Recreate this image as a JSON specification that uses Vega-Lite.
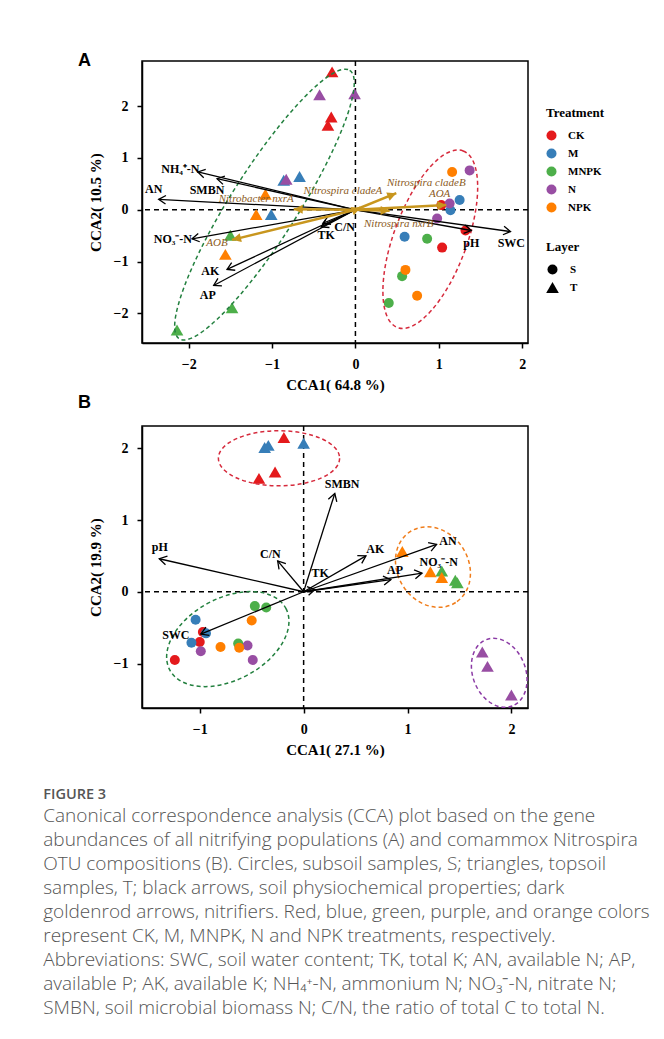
{
  "$schema": "https://vega.github.io/schema/vega-lite/v6.json",
  "padding": {"left": 43, "top": 51, "right": 5, "bottom": 5},
  "background": "white",
  "title": {
    "text": "FIGURE 3",
    "subtitle": [
      "Canonical correspondence analysis (CCA) plot based on the gene",
      "abundances of all nitrifying populations (A) and comammox Nitrospira",
      "OTU compositions (B). Circles, subsoil samples, S; triangles, topsoil",
      "samples, T; black arrows, soil physiochemical properties; dark",
      "goldenrod arrows, nitrifiers. Red, blue, green, purple, and orange colors",
      "represent CK, M, MNPK, N and NPK treatments, respectively.",
      "Abbreviations: SWC, soil water content; TK, total K; AN, available N; AP,",
      "available P; AK, available K; NH₄⁺-N, ammonium N; NO₃⁻-N, nitrate N;",
      "SMBN, soil microbial biomass N; C/N, the ratio of total C to total N."
    ],
    "orient": "bottom",
    "anchor": "start",
    "frame": "bounds",
    "dx": -34,
    "offset": 30,
    "font": "Open Sans",
    "fontSize": 14.5,
    "fontWeight": 600,
    "color": "#555555",
    "subtitleFont": "Open Sans",
    "subtitleFontSize": 19,
    "subtitleFontWeight": 300,
    "subtitleColor": "#555555",
    "subtitleLineHeight": 24,
    "subtitlePadding": 5
  },
  "spacing": 0,
  "vconcat": [
    {
      "width": 386,
      "height": 282,
      "title": {"text": "A", "anchor": "start", "frame": "group", "orient": "top", "dx": -64, "dy": 0, "offset": -24, "baseline": "alphabetic", "font": "Liberation Sans", "fontSize": 18, "fontWeight": "bold", "color": "black"},
      "layer": [
        {
          "data": {"values": [{"v": 0}]},
          "mark": {"type": "rule", "strokeDash": [5, 4], "strokeWidth": 1.5, "color": "black"},
          "encoding": {"x": {"field": "v", "type": "quantitative", "title": "CCA1( 64.8 %)"}}
        },
        {
          "data": {"values": [{"v": 0}]},
          "mark": {"type": "rule", "strokeDash": [5, 4], "strokeWidth": 1.5, "color": "black"},
          "encoding": {"y": {"field": "v", "type": "quantitative", "title": "CCA2( 10.5 %)"}}
        },
        {
          "data": {"values": [
            {"Treatment": "CK", "Layer": "T", "x": -0.28, "y": 2.66},
            {"Treatment": "CK", "Layer": "T", "x": -0.29, "y": 1.79},
            {"Treatment": "CK", "Layer": "T", "x": -0.33, "y": 1.63},
            {"Treatment": "M", "Layer": "T", "x": -0.86, "y": 0.57},
            {"Treatment": "M", "Layer": "T", "x": -0.67, "y": 0.64},
            {"Treatment": "M", "Layer": "T", "x": -1.01, "y": -0.09},
            {"Treatment": "MNPK", "Layer": "T", "x": -1.50, "y": -0.49},
            {"Treatment": "MNPK", "Layer": "T", "x": -1.48, "y": -1.89},
            {"Treatment": "MNPK", "Layer": "T", "x": -2.14, "y": -2.32},
            {"Treatment": "N", "Layer": "T", "x": -0.43, "y": 2.22},
            {"Treatment": "N", "Layer": "T", "x": -0.01, "y": 2.24},
            {"Treatment": "N", "Layer": "T", "x": -0.83, "y": 0.59},
            {"Treatment": "NPK", "Layer": "T", "x": -1.08, "y": 0.30},
            {"Treatment": "NPK", "Layer": "T", "x": -1.19, "y": -0.09},
            {"Treatment": "NPK", "Layer": "T", "x": -1.56, "y": -0.86},
            {"Treatment": "CK", "Layer": "S", "x": 1.03, "y": 0.09},
            {"Treatment": "CK", "Layer": "S", "x": 1.32, "y": -0.40},
            {"Treatment": "CK", "Layer": "S", "x": 1.04, "y": -0.73},
            {"Treatment": "M", "Layer": "S", "x": 1.25, "y": 0.19},
            {"Treatment": "M", "Layer": "S", "x": 1.14, "y": -0.01},
            {"Treatment": "M", "Layer": "S", "x": 0.59, "y": -0.52},
            {"Treatment": "MNPK", "Layer": "S", "x": 0.86, "y": -0.56},
            {"Treatment": "MNPK", "Layer": "S", "x": 0.56, "y": -1.28},
            {"Treatment": "MNPK", "Layer": "S", "x": 0.40, "y": -1.80},
            {"Treatment": "N", "Layer": "S", "x": 1.37, "y": 0.76},
            {"Treatment": "N", "Layer": "S", "x": 1.13, "y": 0.12},
            {"Treatment": "N", "Layer": "S", "x": 0.98, "y": -0.17},
            {"Treatment": "NPK", "Layer": "S", "x": 1.16, "y": 0.73},
            {"Treatment": "NPK", "Layer": "S", "x": 0.60, "y": -1.16},
            {"Treatment": "NPK", "Layer": "S", "x": 0.74, "y": -1.66}
          ]},
          "mark": {"type": "point", "filled": true, "opacity": 1, "strokeWidth": 0},
          "encoding": {
            "x": {"field": "x", "type": "quantitative", "title": "CCA1( 64.8 %)", "scale": {"domain": [-2.56, 2.07], "nice": false, "zero": false}, "axis": {"values": [-2, -1, 0, 1, 2], "format": "d"}},
            "y": {"field": "y", "type": "quantitative", "title": "CCA2( 10.5 %)", "scale": {"domain": [-2.57, 2.87], "nice": false, "zero": false}, "axis": {"values": [-2, -1, 0, 1, 2], "format": "d"}},
            "color": {"field": "Treatment", "type": "nominal", "scale": {"domain": ["CK", "M", "MNPK", "N", "NPK"], "range": ["#e41a1c", "#377eb8", "#4daf4a", "#984ea3", "#ff7f00"]},
              "legend": {"orient": "none", "legendX": 404, "legendY": 46, "symbolType": "circle", "symbolSize": 100, "encode": {"symbols": {"update": {"shape": {"value": "circle"}, "strokeWidth": {"value": 0}}}}}},
            "shape": {"field": "Layer", "type": "nominal", "title": "Layer", "scale": {"domain": ["S", "T"], "range": ["circle", "triangle-up"]},
              "legend": {"orient": "none", "legendX": 404, "legendY": 180, "encode": {"symbols": {"update": {"fill": {"value": "black"}, "stroke": {"value": "black"}, "strokeWidth": {"value": 0}}}}}},
            "size": {"field": "Layer", "type": "nominal", "title": "Layer", "scale": {"domain": ["S", "T"], "range": [100, 160]},
              "legend": {"orient": "none", "legendX": 404, "legendY": 180, "encode": {"symbols": {"update": {"fill": {"value": "black"}, "stroke": {"value": "black"}, "strokeWidth": {"value": 0}}}}}}
          }
        },
        {
          "data": {"values": [{"x": -1.091, "y": 0.10, "group": "T"}]},
          "mark": {"type": "point", "filled": false, "clip": true, "shape": "M 1 0 C 1 0.1165 0.5523 0.211 0 0.211 C -0.5523 0.211 -1 0.1165 -1 0 C -1 -0.1165 -0.5523 -0.211 0 -0.211 C 0.5523 -0.211 1 -0.1165 1 0 Z", "size": 101124, "angle": -57.6, "stroke": "#23803f", "strokeWidth": 1.5, "strokeDash": [4, 3], "opacity": 1},
          "encoding": {
            "x": {"field": "x", "type": "quantitative", "title": "CCA1( 64.8 %)"},
            "y": {"field": "y", "type": "quantitative", "title": "CCA2( 10.5 %)"}
          }
        },
        {
          "data": {"values": [{"x": 0.898, "y": -0.568, "group": "S"}]},
          "mark": {"type": "point", "filled": false, "clip": true, "shape": "M 1 0 C 1 0.2137 0.5523 0.387 0 0.387 C -0.5523 0.387 -1 0.2137 -1 0 C -1 -0.2137 -0.5523 -0.387 0 -0.387 C 0.5523 -0.387 1 -0.2137 1 0 Z", "size": 35495, "angle": -69.6, "stroke": "#d62a3c", "strokeWidth": 1.5, "strokeDash": [4, 3], "opacity": 1},
          "encoding": {
            "x": {"field": "x", "type": "quantitative", "title": "CCA1( 64.8 %)"},
            "y": {"field": "y", "type": "quantitative", "title": "CCA2( 10.5 %)"}
          }
        },
        {
          "data": {"name": "envA", "values": [
            {"label": "NH₄⁺-N", "x": -1.89, "y": 0.73, "lx": -2.10, "ly": 0.78},
            {"label": "SMBN", "x": -1.66, "y": 0.60, "lx": -1.78, "ly": 0.39},
            {"label": "AN", "x": -2.36, "y": 0.20, "lx": -2.42, "ly": 0.40},
            {"label": "NO₃⁻-N", "x": -1.96, "y": -0.56, "lx": -2.19, "ly": -0.56},
            {"label": "AK", "x": -1.54, "y": -1.15, "lx": -1.74, "ly": -1.19},
            {"label": "AP", "x": -1.70, "y": -1.46, "lx": -1.77, "ly": -1.64},
            {"label": "TK", "x": -0.41, "y": -0.33, "lx": -0.35, "ly": -0.49},
            {"label": "C/N", "x": -0.39, "y": -0.26, "lx": -0.13, "ly": -0.33},
            {"label": "pH", "x": 1.39, "y": -0.40, "lx": 1.39, "ly": -0.64},
            {"label": "SWC", "x": 1.86, "y": -0.42, "lx": 1.87, "ly": -0.64}
          ]},
          "layer": [
            {
              "mark": {"type": "rule", "color": "black", "strokeWidth": 1.3},
              "encoding": {
                "x": {"field": "x", "type": "quantitative", "title": "CCA1( 64.8 %)"},
                "y": {"field": "y", "type": "quantitative", "title": "CCA2( 10.5 %)"},
                "x2": {"datum": 0},
                "y2": {"datum": 0}
              }
            },
            {
              "transform": [{"calculate": "atan2(-datum.y * 51.84, datum.x * 83.37) * 180 / PI", "as": "ang"}],
              "mark": {"type": "point", "filled": false, "shape": "M -1 -0.6 L 0 0 L -1 0.6", "size": 200, "stroke": "black", "strokeWidth": 1.3, "opacity": 1},
              "encoding": {
                "x": {"field": "x", "type": "quantitative", "title": "CCA1( 64.8 %)"},
                "y": {"field": "y", "type": "quantitative", "title": "CCA2( 10.5 %)"},
                "angle": {"field": "ang", "type": "quantitative", "scale": null}
              }
            },
            {
              "mark": {"type": "text", "font": "Liberation Serif", "fontSize": 12, "fontWeight": "bold", "color": "black", "align": "center", "baseline": "middle"},
              "encoding": {
                "x": {"field": "lx", "type": "quantitative", "title": "CCA1( 64.8 %)"},
                "y": {"field": "ly", "type": "quantitative", "title": "CCA2( 10.5 %)"},
                "text": {"field": "label"}
              }
            }
          ]
        },
        {
          "data": {"name": "nitA", "values": [
            {"label": "Nitrospira cladeA", "x": 0.06, "y": 0.04, "lx": -0.15, "ly": 0.36},
            {"label": "Nitrospira cladeB", "x": 0.49, "y": 0.32, "lx": 0.85, "ly": 0.51},
            {"label": "AOA", "x": 1.09, "y": 0.09, "lx": 1.01, "ly": 0.30},
            {"label": "Nitrospira nxrB", "x": 0.41, "y": -0.02, "lx": 0.52, "ly": -0.28},
            {"label": "Nitrobacter nxrA", "x": -0.74, "y": 0.01, "lx": -1.19, "ly": 0.20},
            {"label": "AOB", "x": -1.48, "y": -0.58, "lx": -1.66, "ly": -0.65}
          ]},
          "layer": [
            {
              "mark": {"type": "rule", "color": "#c8961e", "strokeWidth": 2.5},
              "encoding": {
                "x": {"field": "x", "type": "quantitative", "title": "CCA1( 64.8 %)"},
                "y": {"field": "y", "type": "quantitative", "title": "CCA2( 10.5 %)"},
                "x2": {"datum": 0},
                "y2": {"datum": 0}
              }
            },
            {
              "transform": [{"calculate": "atan2(-datum.y * 51.84, datum.x * 83.37) * 180 / PI", "as": "ang"}],
              "mark": {"type": "point", "filled": true, "shape": "M 0 0 L -1 -0.5 L -1 0.5 Z", "size": 324, "color": "#c8961e", "opacity": 1, "strokeWidth": 0},
              "encoding": {
                "x": {"field": "x", "type": "quantitative", "title": "CCA1( 64.8 %)"},
                "y": {"field": "y", "type": "quantitative", "title": "CCA2( 10.5 %)"},
                "angle": {"field": "ang", "type": "quantitative", "scale": null}
              }
            },
            {
              "mark": {"type": "text", "font": "Liberation Serif", "fontSize": 11, "fontStyle": "italic", "color": "#8b5a22", "align": "center", "baseline": "middle"},
              "encoding": {
                "x": {"field": "lx", "type": "quantitative", "title": "CCA1( 64.8 %)"},
                "y": {"field": "ly", "type": "quantitative", "title": "CCA2( 10.5 %)"},
                "text": {"field": "label"}
              }
            }
          ]
        }
      ]
    },
    {
      "width": 386,
      "height": 282,
      "title": {"text": "B", "anchor": "start", "frame": "group", "orient": "top", "dx": -64, "dy": 0, "offset": -1, "baseline": "alphabetic", "font": "Liberation Sans", "fontSize": 18, "fontWeight": "bold", "color": "black"},
      "layer": [
        {
          "data": {"values": [{"v": 0}]},
          "mark": {"type": "rule", "strokeDash": [5, 4], "strokeWidth": 1.5, "color": "black"},
          "encoding": {"x": {"field": "v", "type": "quantitative", "title": "CCA1( 27.1 %)"}}
        },
        {
          "data": {"values": [{"v": 0}]},
          "mark": {"type": "rule", "strokeDash": [5, 4], "strokeWidth": 1.5, "color": "black"},
          "encoding": {"y": {"field": "v", "type": "quantitative", "title": "CCA2( 19.9 %)"}}
        },
        {
          "data": {"values": [
            {"Treatment": "CK", "Layer": "T", "x": -0.19, "y": 2.15},
            {"Treatment": "CK", "Layer": "T", "x": -0.275, "y": 1.67},
            {"Treatment": "CK", "Layer": "T", "x": -0.43, "y": 1.58},
            {"Treatment": "M", "Layer": "T", "x": -0.375, "y": 2.01},
            {"Treatment": "M", "Layer": "T", "x": -0.34, "y": 2.04},
            {"Treatment": "M", "Layer": "T", "x": 0.0, "y": 2.07},
            {"Treatment": "MNPK", "Layer": "T", "x": 1.33, "y": 0.29},
            {"Treatment": "MNPK", "Layer": "T", "x": 1.46, "y": 0.16},
            {"Treatment": "MNPK", "Layer": "T", "x": 1.48, "y": 0.125},
            {"Treatment": "N", "Layer": "T", "x": 1.72, "y": -0.84},
            {"Treatment": "N", "Layer": "T", "x": 1.77, "y": -1.04},
            {"Treatment": "N", "Layer": "T", "x": 2.0, "y": -1.44},
            {"Treatment": "NPK", "Layer": "T", "x": 0.95, "y": 0.56},
            {"Treatment": "NPK", "Layer": "T", "x": 1.22, "y": 0.28},
            {"Treatment": "NPK", "Layer": "T", "x": 1.33, "y": 0.20},
            {"Treatment": "CK", "Layer": "S", "x": -0.97, "y": -0.56},
            {"Treatment": "CK", "Layer": "S", "x": -1.0, "y": -0.70},
            {"Treatment": "CK", "Layer": "S", "x": -1.24, "y": -0.95},
            {"Treatment": "M", "Layer": "S", "x": -1.04, "y": -0.39},
            {"Treatment": "M", "Layer": "S", "x": -0.94, "y": -0.58},
            {"Treatment": "M", "Layer": "S", "x": -1.08, "y": -0.71},
            {"Treatment": "MNPK", "Layer": "S", "x": -0.47, "y": -0.20},
            {"Treatment": "MNPK", "Layer": "S", "x": -0.36, "y": -0.22},
            {"Treatment": "MNPK", "Layer": "S", "x": -0.63, "y": -0.72},
            {"Treatment": "N", "Layer": "S", "x": -0.99, "y": -0.83},
            {"Treatment": "N", "Layer": "S", "x": -0.54, "y": -0.75},
            {"Treatment": "N", "Layer": "S", "x": -0.49, "y": -0.95},
            {"Treatment": "NPK", "Layer": "S", "x": -0.50, "y": -0.40},
            {"Treatment": "NPK", "Layer": "S", "x": -0.80, "y": -0.77},
            {"Treatment": "NPK", "Layer": "S", "x": -0.62, "y": -0.78}
          ]},
          "mark": {"type": "point", "filled": true, "opacity": 1, "strokeWidth": 0},
          "encoding": {
            "x": {"field": "x", "type": "quantitative", "title": "CCA1( 27.1 %)", "scale": {"domain": [-1.556, 2.16], "nice": false, "zero": false}, "axis": {"values": [-1, 0, 1, 2], "format": "d"}},
            "y": {"field": "y", "type": "quantitative", "title": "CCA2( 19.9 %)", "scale": {"domain": [-1.62, 2.31], "nice": false, "zero": false}, "axis": {"values": [-1, 0, 1, 2], "format": "d"}},
            "color": {"field": "Treatment", "type": "nominal", "scale": {"domain": ["CK", "M", "MNPK", "N", "NPK"], "range": ["#e41a1c", "#377eb8", "#4daf4a", "#984ea3", "#ff7f00"]},
              "legend": {"orient": "none", "legendX": 404, "legendY": 46, "symbolType": "circle", "symbolSize": 100, "encode": {"symbols": {"update": {"shape": {"value": "circle"}, "strokeWidth": {"value": 0}}}}}},
            "shape": {"field": "Layer", "type": "nominal", "title": "Layer", "scale": {"domain": ["S", "T"], "range": ["circle", "triangle-up"]},
              "legend": {"orient": "none", "legendX": 404, "legendY": 180, "encode": {"symbols": {"update": {"fill": {"value": "black"}, "stroke": {"value": "black"}, "strokeWidth": {"value": 0}}}}}},
            "size": {"field": "Layer", "type": "nominal", "title": "Layer", "scale": {"domain": ["S", "T"], "range": [100, 160]},
              "legend": {"orient": "none", "legendX": 404, "legendY": 180, "encode": {"symbols": {"update": {"fill": {"value": "black"}, "stroke": {"value": "black"}, "strokeWidth": {"value": 0}}}}}}
          }
        },
        {
          "data": {"values": [{"x": -0.237, "y": 1.86, "group": "CK-M T"}]},
          "mark": {"type": "point", "filled": false, "clip": true, "shape": "M 1 0 C 1 0.2507 0.5523 0.454 0 0.454 C -0.5523 0.454 -1 0.2507 -1 0 C -1 -0.2507 -0.5523 -0.454 0 -0.454 C 0.5523 -0.454 1 -0.2507 1 0 Z", "size": 14689, "angle": 0, "stroke": "#d62a3c", "strokeWidth": 1.5, "strokeDash": [4, 3], "opacity": 1},
          "encoding": {
            "x": {"field": "x", "type": "quantitative", "title": "CCA1( 27.1 %)"},
            "y": {"field": "y", "type": "quantitative", "title": "CCA2( 19.9 %)"}
          }
        },
        {
          "data": {"values": [{"x": 1.245, "y": 0.344, "group": "NPK-MNPK T"}]},
          "mark": {"type": "point", "filled": false, "clip": true, "shape": "M 1 0 C 1 0.4645 0.5523 0.841 0 0.841 C -0.5523 0.841 -1 0.4645 -1 0 C -1 -0.4645 -0.5523 -0.841 0 -0.841 C 0.5523 -0.841 1 -0.4645 1 0 Z", "size": 7090, "angle": 57.3, "stroke": "#f07d1b", "strokeWidth": 1.5, "strokeDash": [4, 3], "opacity": 1},
          "encoding": {
            "x": {"field": "x", "type": "quantitative", "title": "CCA1( 27.1 %)"},
            "y": {"field": "y", "type": "quantitative", "title": "CCA2( 19.9 %)"}
          }
        },
        {
          "data": {"values": [{"x": 1.883, "y": -1.13, "group": "N T"}]},
          "mark": {"type": "point", "filled": false, "clip": true, "shape": "M 1 0 C 1 0.4098 0.5523 0.742 0 0.742 C -0.5523 0.742 -1 0.4098 -1 0 C -1 -0.4098 -0.5523 -0.742 0 -0.742 C 0.5523 -0.742 1 -0.4098 1 0 Z", "size": 5069, "angle": 68.5, "stroke": "#8b3aa5", "strokeWidth": 1.5, "strokeDash": [4, 3], "opacity": 1},
          "encoding": {
            "x": {"field": "x", "type": "quantitative", "title": "CCA1( 27.1 %)"},
            "y": {"field": "y", "type": "quantitative", "title": "CCA2( 19.9 %)"}
          }
        },
        {
          "data": {"values": [{"x": -0.73, "y": -0.66, "group": "S"}]},
          "mark": {"type": "point", "filled": false, "clip": true, "shape": "M 1 0 C 1 0.3446 0.5523 0.624 0 0.624 C -0.5523 0.624 -1 0.3446 -1 0 C -1 -0.3446 -0.5523 -0.624 0 -0.624 C 0.5523 -0.624 1 -0.3446 1 0 Z", "size": 17266, "angle": -27.9, "stroke": "#23803f", "strokeWidth": 1.5, "strokeDash": [4, 3], "opacity": 1},
          "encoding": {
            "x": {"field": "x", "type": "quantitative", "title": "CCA1( 27.1 %)"},
            "y": {"field": "y", "type": "quantitative", "title": "CCA2( 19.9 %)"}
          }
        },
        {
          "data": {"name": "envB", "values": [
            {"label": "SMBN", "x": 0.30, "y": 1.37, "lx": 0.37, "ly": 1.50},
            {"label": "pH", "x": -1.39, "y": 0.46, "lx": -1.385, "ly": 0.62},
            {"label": "C/N", "x": -0.25, "y": 0.43, "lx": -0.32, "ly": 0.53},
            {"label": "TK", "x": 0.11, "y": 0.03, "lx": 0.16, "ly": 0.265},
            {"label": "AK", "x": 0.60, "y": 0.50, "lx": 0.69, "ly": 0.60},
            {"label": "AN", "x": 1.28, "y": 0.66, "lx": 1.39, "ly": 0.71},
            {"label": "AP", "x": 0.84, "y": 0.17, "lx": 0.88, "ly": 0.30},
            {"label": "NO₃⁻-N", "x": 1.14, "y": 0.26, "lx": 1.30, "ly": 0.41},
            {"label": "SWC", "x": -0.99, "y": -0.59, "lx": -1.23, "ly": -0.60}
          ]},
          "layer": [
            {
              "mark": {"type": "rule", "color": "black", "strokeWidth": 1.3},
              "encoding": {
                "x": {"field": "x", "type": "quantitative", "title": "CCA1( 27.1 %)"},
                "y": {"field": "y", "type": "quantitative", "title": "CCA2( 19.9 %)"},
                "x2": {"datum": 0},
                "y2": {"datum": 0}
              }
            },
            {
              "transform": [{"calculate": "atan2(-datum.y * 71.76, datum.x * 103.9) * 180 / PI", "as": "ang"}],
              "mark": {"type": "point", "filled": false, "shape": "M -1 -0.6 L 0 0 L -1 0.6", "size": 220, "stroke": "black", "strokeWidth": 1.3, "opacity": 1},
              "encoding": {
                "x": {"field": "x", "type": "quantitative", "title": "CCA1( 27.1 %)"},
                "y": {"field": "y", "type": "quantitative", "title": "CCA2( 19.9 %)"},
                "angle": {"field": "ang", "type": "quantitative", "scale": null}
              }
            },
            {
              "mark": {"type": "text", "font": "Liberation Serif", "fontSize": 12, "fontWeight": "bold", "color": "black", "align": "center", "baseline": "middle"},
              "encoding": {
                "x": {"field": "lx", "type": "quantitative", "title": "CCA1( 27.1 %)"},
                "y": {"field": "ly", "type": "quantitative", "title": "CCA2( 19.9 %)"},
                "text": {"field": "label"}
              }
            }
          ]
        }
      ]
    }
  ],
  "config": {
    "view": {"stroke": "black", "strokeWidth": 1.5},
    "axis": {
      "grid": false,
      "labelFont": "Liberation Serif", "labelFontSize": 14, "labelFontWeight": "bold", "labelColor": "black",
      "titleFont": "Liberation Serif", "titleFontSize": 15, "titleFontWeight": "bold", "titleColor": "black",
      "tickColor": "black", "tickSize": 5, "tickWidth": 1.5, "domainColor": "black", "domainWidth": 1.5,
      "labelPadding": 9
    },
    "axisX": {"titlePadding": 6},
    "axisY": {"titlePadding": 10},
    "legend": {
      "titleFont": "Liberation Serif", "titleFontSize": 13, "titleFontWeight": "bold", "titleColor": "black",
      "labelFont": "Liberation Serif", "labelFontSize": 11, "labelFontWeight": "bold", "labelColor": "black",
      "labelOffset": 11, "rowPadding": 6, "titlePadding": 10, "symbolStrokeWidth": 0, "padding": 0
    }
  }
}
